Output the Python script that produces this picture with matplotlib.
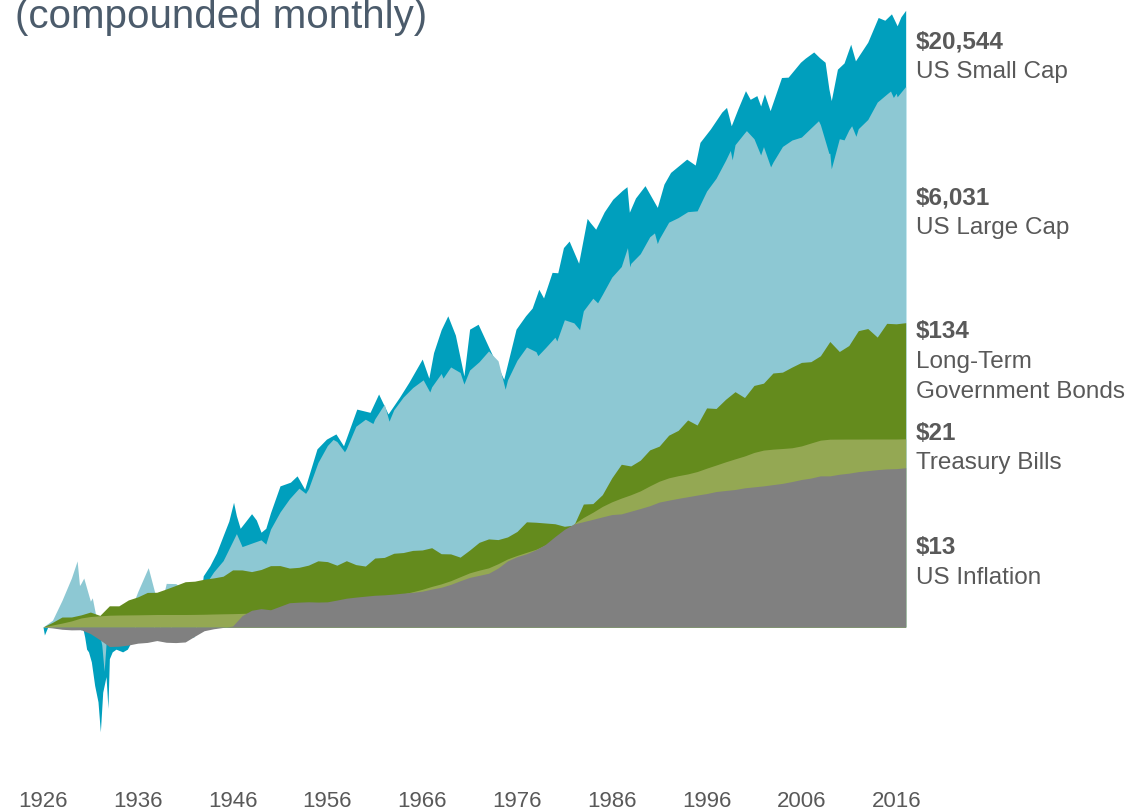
import numpy as np
import matplotlib; matplotlib.use('Agg')
import matplotlib.pyplot as plt

plt.rcParams['font.family'] = ['Liberation Sans', 'DejaVu Sans']

# growth of $1, log scale; year-end points 1926.0 .. 2017.0
years = np.arange(1926, 2018)

bonds = [1.0, 1.078, 1.174, 1.175, 1.215, 1.272, 1.205, 1.407, 1.406, 1.546, 1.624,
         1.745, 1.749, 1.845, 1.954, 2.073, 2.092, 2.159, 2.204, 2.266, 2.508,
         2.506, 2.440, 2.524, 2.685, 2.688, 2.583, 2.614, 2.708, 2.903, 2.866,
         2.705, 2.908, 2.731, 2.668, 3.036, 3.066, 3.278, 3.317, 3.433, 3.457,
         3.585, 3.255, 3.245, 3.080, 3.452, 3.908, 4.131, 4.085, 4.265, 4.658,
         5.440, 5.402, 5.337, 5.273, 5.062, 5.159, 7.243, 7.294, 8.424, 11.04,
         13.74, 13.37, 14.67, 17.32, 18.40, 21.95, 23.72, 28.04, 25.85, 34.05,
         33.74, 39.11, 44.23, 40.25, 48.90, 50.71, 59.74, 60.57, 65.72, 70.85,
         71.70, 78.80, 99.21, 84.43, 92.95, 118.1, 122.2, 106.5, 132.9, 131.9, 134.3]

bills = [1.0, 1.033, 1.065, 1.103, 1.156, 1.184, 1.197, 1.209, 1.213, 1.215, 1.217,
         1.220, 1.223, 1.223, 1.223, 1.223, 1.225, 1.228, 1.233, 1.237, 1.240,
         1.245, 1.251, 1.261, 1.275, 1.290, 1.310, 1.332, 1.356, 1.368, 1.390,
         1.425, 1.469, 1.491, 1.536, 1.577, 1.610, 1.654, 1.705, 1.765, 1.834,
         1.922, 2.003, 2.107, 2.246, 2.392, 2.497, 2.592, 2.771, 2.993, 3.166,
         3.328, 3.497, 3.749, 4.139, 4.602, 5.279, 5.834, 6.347, 6.969, 7.506,
         7.971, 8.410, 8.948, 9.700, 10.46, 11.04, 11.43, 11.76, 12.22, 12.90,
         13.57, 14.29, 14.99, 15.70, 16.62, 17.26, 17.53, 17.71, 17.92, 18.46,
         19.35, 20.26, 20.58, 20.60, 20.62, 20.62, 20.64, 20.64, 20.64, 20.64, 20.70]

inflation = [1.0, 0.985, 0.964, 0.955, 0.957, 0.899, 0.814, 0.730, 0.734, 0.748, 0.771,
             0.780, 0.804, 0.782, 0.778, 0.786, 0.862, 0.942, 0.972, 0.993, 1.016,
             1.201, 1.309, 1.344, 1.320, 1.397, 1.479, 1.492, 1.501, 1.494, 1.500,
             1.543, 1.590, 1.618, 1.643, 1.667, 1.679, 1.699, 1.726, 1.747, 1.780,
             1.841, 1.896, 1.985, 2.106, 2.222, 2.297, 2.375, 2.584, 2.900, 3.103,
             3.252, 3.473, 3.785, 4.289, 4.821, 5.250, 5.455, 5.662, 5.889, 6.113,
             6.180, 6.452, 6.736, 7.046, 7.476, 7.707, 7.931, 8.145, 8.365, 8.574,
             8.857, 9.008, 9.152, 9.399, 9.55, 9.70, 9.90, 10.10, 10.40, 10.75,
             11.00, 11.40, 11.40, 11.70, 11.90, 12.20, 12.40, 12.60, 12.75, 12.80, 13.00]

# large cap: year ends plus a few intra-year peaks / troughs
large_t = [1926.0, 1927.0, 1928.0, 1929.0, 1929.6, 1929.85, 1930.0, 1930.3, 1931.0, 1931.2,
           1932.0, 1932.2, 1932.45, 1932.7, 1933.0, 1933.5, 1934.0, 1935.0, 1936.0, 1937.1,
           1938.0, 1938.25, 1939.0, 1940.0, 1941.0, 1942.0, 1942.3, 1943.0, 1944.0, 1945.0,
           1946.0, 1946.4, 1947.0, 1948.0, 1949.0, 1949.5, 1950.0, 1951.0, 1952.0, 1953.0,
           1953.7, 1954.0, 1955.0, 1956.0, 1956.6, 1957.0, 1957.8, 1958.0, 1959.0, 1960.0,
           1960.8, 1961.0, 1962.0, 1962.5, 1963.0, 1964.0, 1965.0, 1966.1, 1966.8, 1967.0,
           1968.0, 1968.2, 1969.0, 1970.0, 1970.4, 1971.0, 1972.0, 1973.0, 1974.0, 1974.75,
           1975.0, 1976.0, 1977.0, 1978.0, 1978.2, 1979.0, 1980.0, 1980.2, 1981.0, 1982.0,
           1982.6, 1983.0, 1984.0, 1984.5, 1985.0, 1986.0, 1987.0, 1987.65, 1987.9, 1988.0,
           1989.0, 1990.0, 1990.5, 1990.8, 1991.0, 1992.0, 1993.0, 1994.0, 1995.0, 1996.0,
           1997.0, 1998.0, 1998.5, 1998.7, 1999.0, 2000.0, 2000.2, 2001.0, 2001.7, 2002.0,
           2002.75, 2003.0, 2004.0, 2005.0, 2006.0, 2007.0, 2007.8, 2008.0, 2008.9, 2009.0,
           2009.15, 2010.0, 2010.5, 2011.0, 2011.3, 2011.75, 2012.0, 2013.0, 2014.0, 2015.0,
           2015.4, 2015.7, 2016.0, 2016.1, 2017.0]
large_v = [1.0, 1.116, 1.535, 2.204, 2.9, 1.95, 2.019, 2.2, 1.516, 1.6,
           0.86, 0.75, 0.49, 0.85, 0.789, 1.35, 1.215, 1.198, 1.770, 2.6,
           1.540, 1.25, 2.019, 2.011, 1.814, 1.604, 1.45, 1.929, 2.429, 2.910,
           3.970, 4.5, 3.649, 3.857, 4.070, 3.8, 4.835, 6.368, 7.896, 9.349,
           8.6, 9.256, 14.12, 18.59, 20.5, 19.81, 16.8, 17.67, 25.34, 28.38,
           26.5, 28.52, 36.19, 27.5, 33.04, 40.58, 47.27, 53.5, 44.0, 47.81,
           59.28, 55.0, 65.86, 60.26, 50.0, 62.67, 71.63, 85.24, 72.71, 46.0,
           53.44, 73.32, 90.77, 84.24, 79.0, 89.80, 106.3, 100.0, 140.8, 133.9,
           120.0, 162.6, 199.2, 185.0, 211.7, 279.9, 331.7, 450.0, 330.0, 348.9,
           407.5, 535.9, 570.0, 480.0, 518.7, 677.4, 729.6, 802.5, 813.0, 1118.6,
           1375.9, 1835.4, 2150.0, 1850.0, 2360.3, 2856.0, 2960.0, 2596.1, 2000.0, 2287.2,
           1650.0, 1781.7, 2293.1, 2543.1, 2667.7, 3089.2, 3470.0, 3259.1, 2050.0, 2053.2,
           1600.0, 2597.3, 2550.0, 2989.5, 3200.0, 2700.0, 3052.3, 3540.7, 4687.9, 5330.2,
           5600.0, 5050.0, 5404.8, 5100.0, 6031.0]

small_t = [1926.0, 1926.15, 1926.5, 1927.0, 1928.0, 1928.9, 1929.5, 1930.0, 1930.2, 1930.4,
           1930.6, 1930.8, 1931.1, 1931.45, 1931.8, 1932.05, 1932.3, 1932.65, 1932.85, 1933.0,
           1933.3, 1933.7, 1934.4, 1934.9, 1935.3, 1935.7, 1936.5, 1937.1, 1937.9, 1938.5,
           1939.5, 1940.5, 1941.9, 1942.5, 1942.9, 1943.6, 1944.3, 1945.0, 1945.6, 1946.1,
           1946.4, 1946.8, 1947.3, 1948.0, 1948.5, 1949.0, 1949.5, 1950.0, 1951.0, 1952.1,
           1952.8, 1953.6, 1954.9, 1955.9, 1956.9, 1957.7, 1959.1, 1960.5, 1961.4, 1962.4,
           1963.6, 1964.6, 1966.0, 1966.7, 1967.2, 1968.0, 1968.7, 1969.5, 1970.4, 1971.0,
           1971.9, 1973.1, 1974.6, 1975.9, 1976.9, 1977.6, 1978.3, 1978.8, 1979.7, 1980.3,
           1980.9, 1981.5, 1982.5, 1983.4, 1983.7, 1984.3, 1985.2, 1986.1, 1987.1, 1987.6,
           1987.85, 1988.5, 1989.5, 1990.8, 1991.5, 1992.2, 1993.9, 1994.8, 1995.3, 1996.4,
           1997.6, 1998.1, 1998.6, 1999.3, 2000.1, 2000.6, 2001.3, 2001.7, 2002.1, 2002.7,
           2003.9, 2004.6, 2005.9, 2006.4, 2007.3, 2007.9, 2008.5, 2008.9, 2009.15, 2009.8,
           2010.5, 2011.2, 2011.7, 2013.0, 2014.1, 2014.8, 2015.5, 2016.1, 2016.5, 2017.0]
small_v = [1.0, 0.88, 1.0, 1.0, 1.25, 1.8, 1.6, 0.95, 0.98, 0.85,
           0.70, 0.67, 0.57, 0.39, 0.30, 0.185, 0.35, 0.45, 0.27, 0.60,
           0.67, 0.70, 0.67, 0.70, 0.785, 1.0, 1.9, 2.1, 0.8, 1.1,
           1.0, 0.9, 0.85, 1.3, 2.28, 2.68, 3.3, 4.35, 5.5, 7.45,
           6.0, 4.9, 5.4, 6.2, 5.6, 4.6, 4.9, 6.3, 9.7, 10.3,
           11.4, 9.2, 17.6, 20.6, 22.4, 18.5, 33.4, 31.7, 42.6, 30.9,
           40.4, 51.5, 74.8, 55.0, 83.0, 120.0, 150.0, 110.0, 57.0, 121.0,
           131.0, 88.0, 54.0, 121.0, 150.0, 170.0, 230.0, 200.0, 302.0, 300.0,
           450.0, 500.0, 350.0, 720.0, 676.0, 605.0, 800.0, 980.0, 1130.0, 1200.0,
           795.0, 1000.0, 1220.0, 860.0, 1250.0, 1510.0, 1870.0, 1700.0, 2450.0, 3040.0,
           3990.0, 4300.0, 3200.0, 4200.0, 5630.0, 4900.0, 5200.0, 4400.0, 5350.0, 4080.0,
           6960.0, 7000.0, 8900.0, 9500.0, 10500.0, 9600.0, 8900.0, 5800.0, 4800.0, 7960.0,
           8800.0, 11900.0, 9100.0, 12300.0, 18300.0, 17500.0, 19400.0, 16000.0, 18500.0, 20544.0]

labels = [('$20,544', ['US Small Cap'], 42),
          ('$6,031', ['US Large Cap'], 198),
          ('$134', ['Long-Term', 'Government Bonds'], 332),
          ('$21', ['Treasury Bills'], 433),
          ('$13', ['US Inflation'], 548)]
tick_years = list(range(1926, 2017, 10))

W, H = 1131, 812
fig = plt.figure(figsize=(W / 100, H / 100), dpi=100)
bot = 770
ax = fig.add_axes([0, 1 - bot / H, 1, bot / H])

# pixel geometry: 1926 at x=43, 9.48 px per year; $1 at y=628, 143 px per decade
ax.set_xlim(1926 - 43 / 9.48, 1926 + (W - 43) / 9.48)
ax.set_yscale('log')
ax.set_ylim(10 ** ((628 - bot) / 143), 10 ** (628 / 143))

ax.fill_between(small_t, 1, small_v, color='#009fbd', lw=0)
ax.fill_between(large_t, 1, large_v, color='#8dc8d3', lw=0)
ax.fill_between(years, 1, bonds, color='#648b1d', lw=0)
ax.fill_between(years, 1, bills, color='#94a853', lw=0)
ax.fill_between(years, 1, inflation, color='#808080', lw=0)

for s in ax.spines.values():
    s.set_visible(False)
ax.set_yticks([])
ax.minorticks_off()
ax.set_xticks(tick_years)
ax.set_xticklabels([str(y) for y in tick_years], fontsize=16, color='#595959')
ax.tick_params(axis='x', length=0, pad=15)
ax.set_yticks([], minor=True)

fig.text(15 / W, 1 - 28 / H, '(compounded monthly)', fontsize=29, color='#4b5b6b',
         va='baseline', ha='left')

for val, names, py in labels:
    fig.text(916 / W, 1 - py / H, val, fontsize=17.5, fontweight='bold', color='#595959',
             va='center', ha='left')
    for i, n in enumerate(names):
        fig.text(916 / W, 1 - (py + 30 * (i + 1)) / H, n, fontsize=17.5, color='#595959',
                 va='center', ha='left')

fig.savefig('out.png', dpi=100)
